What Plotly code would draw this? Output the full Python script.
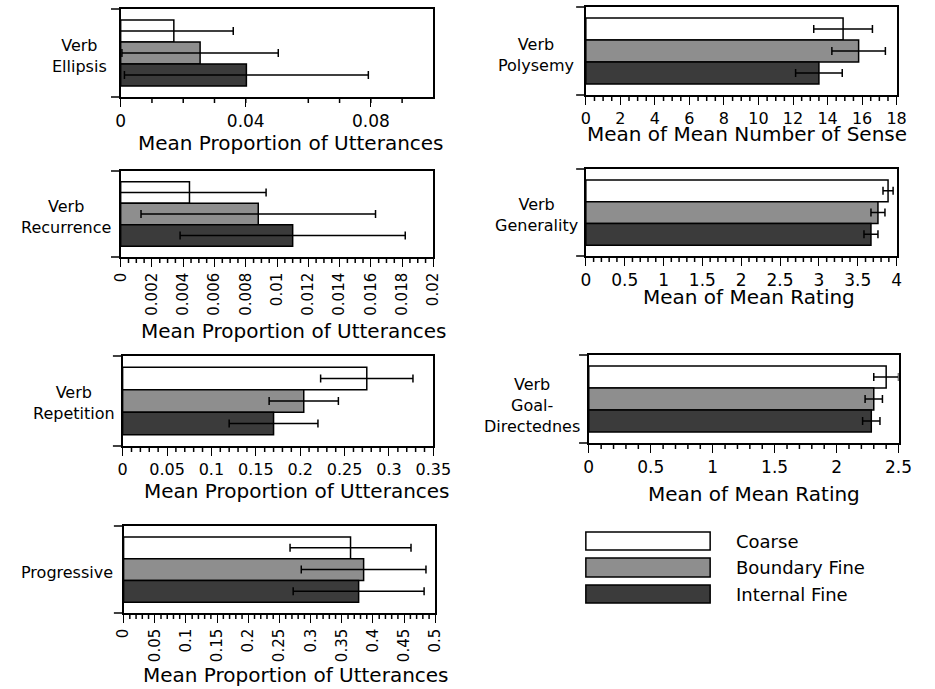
import plotly.graph_objects as go

# ---------------- data ----------------
categories = ["Verb Ellipsis", "Verb Polysemy", "Verb Recurrence", "Verb Generality",
              "Verb Repetition", "Verb Goal-Directednes", "Progressive"]
cat_labels = ["Verb<br>Ellipsis", "Verb<br>Polysemy", "Verb<br>Recurrence", "Verb<br>Generality",
              "Verb<br>Repetition", "Verb<br>Goal-<br>Directednes", "Progressive"]
axis_titles = ["Mean Proportion of Utterances", "Mean of Mean Number of Sense",
               "Mean Proportion of Utterances", "Mean of Mean Rating",
               "Mean Proportion of Utterances", "Mean of Mean Rating",
               "Mean Proportion of Utterances"]
series_names = ["Coarse", "Boundary Fine", "Internal Fine"]

coarse = [0.017, 14.9, 0.0044, 3.89, 0.275, 2.40, 0.364]
coarse_err = [0.019, 1.7, 0.0049, 0.065, 0.052, 0.10, 0.097]
boundary = [0.0254, 15.8, 0.0088, 3.76, 0.204, 2.30, 0.385]
boundary_err = [0.025, 1.55, 0.0075, 0.09, 0.039, 0.07, 0.10]
internal = [0.0402, 13.5, 0.011, 3.67, 0.170, 2.28, 0.377]
internal_err = [0.039, 1.35, 0.0072, 0.09, 0.05, 0.07, 0.105]

x_max = [0.1, 18, 0.02, 4, 0.35, 2.5, 0.5]
major_step = [0.04, 2, 0.002, 0.5, 0.05, 0.5, 0.05]
minor_per_major = [5, 4, 4, 5, 5, 5, 5]

# ---------------- layout geometry (pixels) ----------------
W, H = 935, 689
panels = [  # x0, x1, y0(top), y1(bottom)
    (115, 437, 9, 97),
    (594, 914, 7, 95),
    (115, 437, 171, 257),
    (594, 914, 169, 256),
    (117, 437, 356, 446),
    (597, 916, 355, 443),
    (118, 439, 526, 613),
]
tick_angle = [0, 0, -90, 0, 0, 0, -90]
tick_size = [17, 16, 15, 17, 16, 17, 15]
title_pos = [(290, 143), (760, 134), (293, 331), (762, 297), (297, 491), (767, 494), (296, 675)]
label_pos = [(73, 56), (543, 55), (59, 217), (543, 215), (67, 403), (539, 405), (60, 572)]

colors = ["#ffffff", "#8e8e8e", "#3b3b3b"]
values = [coarse, boundary, internal]
errors = [coarse_err, boundary_err, internal_err]

FONT = "DejaVu Sans"
MINOR_LEN = 6  # px

fig = go.Figure()
layout = dict(
    width=W, height=H, margin=dict(l=0, r=0, t=0, b=0),
    paper_bgcolor="white", plot_bgcolor="white",
    barmode="group", bargap=0.25, bargroupgap=0,
    showlegend=False, font=dict(family=FONT, color="black"),
)
annotations = []
shapes = []

for i, cat in enumerate(categories):
    ax = "" if i == 0 else str(i + 1)
    for s in range(3):
        fig.add_trace(go.Bar(
            x=[values[s][i]], y=[cat], orientation="h", name=series_names[s],
            marker=dict(color=colors[s], line=dict(color="black", width=1.5)),
            error_x=dict(type="data", array=[errors[s][i]], color="black", thickness=1.5, width=4),
            xaxis="x" + ax, yaxis="y" + ax, hoverinfo="skip",
        ))
    x0, x1, yt, yb = panels[i]
    layout["xaxis" + ax] = dict(
        domain=[x0 / W, x1 / W], anchor="y" + ax, range=[0, x_max[i]],
        tickmode="linear", tick0=0, dtick=major_step[i],
        ticks="outside", ticklen=8, tickwidth=1.4, tickcolor="black",
        showline=True, linewidth=1.5, linecolor="black", mirror=True,
        showgrid=False, zeroline=False, tickangle=tick_angle[i],
        tickfont=dict(family=FONT, size=tick_size[i], color="black"),
    )
    layout["yaxis" + ax] = dict(
        domain=[1 - yb / H, 1 - yt / H], anchor="x" + ax, type="category",
        range=[0.5, -0.5], ticks="", showticklabels=False,
        showline=True, linewidth=1.5, linecolor="black", mirror=True,
        showgrid=False, zeroline=False,
    )
    # minor tick marks (axis decoration) drawn in paper units along the axis domain
    nmin = minor_per_major[i] * int(round(x_max[i] / major_step[i]))
    dom0, dom1 = x0 / W, x1 / W
    for k in range(1, nmin):
        if k % minor_per_major[i] == 0:
            continue
        px = dom0 + (dom1 - dom0) * k / nmin
        shapes.append(dict(type="line", xref="paper", yref="paper", layer="above",
                           x0=px, x1=px, y0=1 - yb / H, y1=1 - (yb + MINOR_LEN) / H,
                           line=dict(color="black", width=1.5)))
    # short frame extensions to the left of the value axis (top and bottom)
    for yy in (yt, yb):
        shapes.append(dict(type="line", xref="paper", yref="paper", x0=(x0 - 10) / W, x1=x0 / W,
                           y0=1 - yy / H, y1=1 - yy / H, line=dict(color="black", width=1.5)))
    tx, ty = title_pos[i]
    annotations.append(dict(text=axis_titles[i], x=tx / W, y=1 - ty / H, xref="paper", yref="paper",
                            xanchor="center", yanchor="middle", showarrow=False,
                            font=dict(family=FONT, size=20, color="black")))
    lx, ly = label_pos[i]
    annotations.append(dict(text=cat_labels[i], x=lx / W, y=1 - ly / H, xref="paper", yref="paper",
                            xanchor="center", yanchor="middle", align="center", showarrow=False,
                            font=dict(family=FONT, size=16, color="black")))

# legend drawn as boxes + labels
leg_boxes = [(532, 550), (558, 577), (585, 603)]
for s in range(3):
    y0, y1 = leg_boxes[s]
    shapes.append(dict(type="rect", xref="paper", yref="paper", x0=594 / W, x1=722 / W,
                       y0=1 - y1 / H, y1=1 - y0 / H, fillcolor=colors[s],
                       line=dict(color="black", width=1.5)))
    annotations.append(dict(text=series_names[s], x=747 / W, y=1 - (y0 + y1) / 2 / H,
                            xref="paper", yref="paper", xanchor="left", yanchor="middle",
                            showarrow=False, font=dict(family=FONT, size=18, color="black")))

layout["annotations"] = annotations
layout["shapes"] = shapes
fig.update_layout(**layout)
fig.write_html("out.html")
